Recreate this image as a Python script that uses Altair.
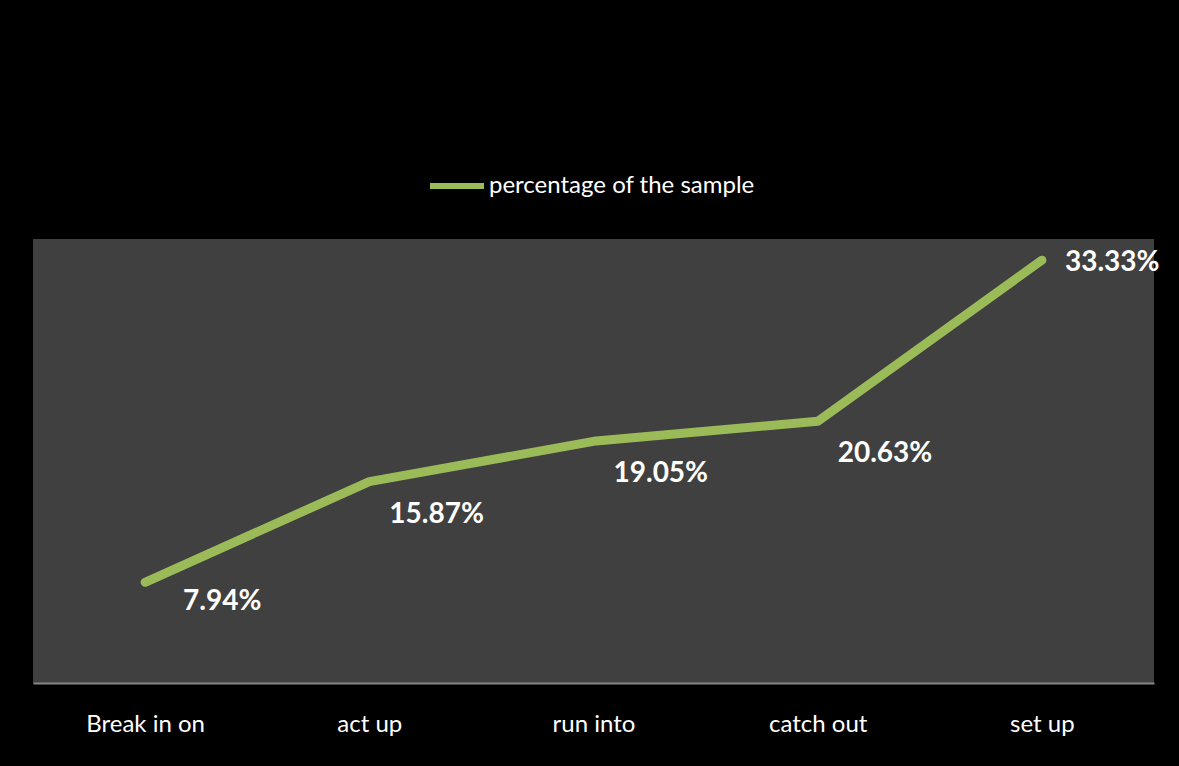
import altair as alt
import pandas as pd

categories = ["Break in on", "act up", "run into", "catch out", "set up"]
values = [7.94, 15.87, 19.05, 20.63, 33.33]
labels = ["7.94%", "15.87%", "19.05%", "20.63%", "33.33%"]
series = "percentage of the sample"

df = pd.DataFrame({"cat": categories, "value": values, "label": labels, "series": series})

FONT = "Lato"

base = alt.Chart(df).encode(
    x=alt.X("cat:N", sort=categories,
            scale=alt.Scale(paddingInner=0, paddingOuter=0),
            axis=alt.Axis(title=None, labelAngle=0, ticks=False, labelPadding=29,
                          labelFontSize=24, labelColor="white", labelFont=FONT,
                          domainColor="#868686", domainWidth=2)),
    y=alt.Y("value:Q", scale=alt.Scale(domain=[0, 35], nice=False, zero=True), axis=None),
)

line = base.mark_line(strokeWidth=9, strokeCap="round", strokeJoin="round").encode(
    color=alt.Color("series:N", scale=alt.Scale(range=["#9BBB59"]),
                    legend=alt.Legend(title=None, orient="none", legendX=394, legendY=-83,
                                      symbolType="stroke", symbolSize=2916,
                                      symbolStrokeWidth=6, labelFontSize=24,
                                      labelColor="white", labelFont=FONT, labelLimit=0,
                                      labelOffset=2, padding=0))
)


def labels_layer(cond, dx, dy):
    return base.transform_filter(cond).mark_text(
        align="left", baseline="middle", dx=dx, dy=dy, fontSize=28, fontWeight="bold",
        color="white", font=FONT).encode(text="label:N")


text_a = labels_layer("datum.value < 10", 38, 20)
text_b = labels_layer("datum.value >= 10 && datum.value < 30", 20, 33)
text_c = labels_layer("datum.value >= 30", 23, 3)

chart = alt.layer(line, text_a, text_b, text_c).properties(
    width=1121, height=444,
    background="black",
    padding={"left": 33, "top": 239, "right": 25, "bottom": 83},
    autosize=alt.AutoSizeParams(type="none"),
).configure_view(fill="#404040", stroke=None)

chart.save("out.html", embed_options={"renderer": "svg", "actions": False})
